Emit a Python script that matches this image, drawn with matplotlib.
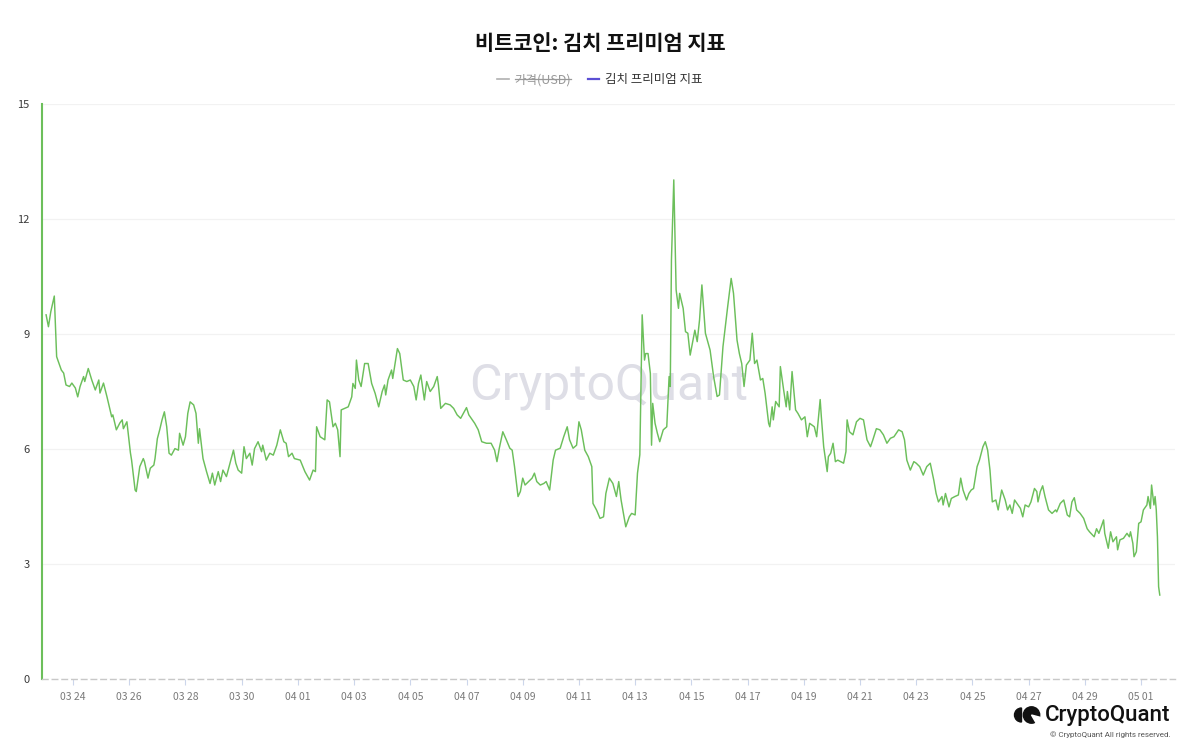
# ============================
# Imports
# ============================

import pandas as pd
import matplotlib
matplotlib.use("Agg")
import matplotlib.pyplot as plt
import matplotlib.dates as mdates
from matplotlib.lines import Line2D
from matplotlib.patches import Wedge, Circle

plt.rcParams["font.family"] = ["Noto Sans CJK KR", "DejaVu Sans"]

# ============================
# Data (hours since 2024-03-23 00:00, kimchi premium %)
# ============================

start = pd.Timestamp("2024-03-23 00:00")

hours = [
    1, 3, 5, 8, 10, 11, 14, 16, 18, 21, 23, 26, 28, 30, 33, 34, 37, 40, 43, 46,
    47, 50, 53, 57, 58, 61, 64, 66, 67, 70, 73, 74, 77, 78, 81, 84, 85, 88, 90, 93,
    94, 96, 98, 100, 102, 104, 106, 108, 111, 114, 115, 118, 120, 122, 124, 127, 129, 131, 132, 135,
    138, 141, 143, 145, 148, 150, 152, 155, 161, 163, 165, 168, 170, 172, 175, 177, 179, 182, 185, 186,
    189, 192, 195, 198, 201, 204, 206, 208, 211, 213, 218, 222, 226, 229, 231, 232, 235, 239, 241, 243,
    246, 248, 250, 252, 253, 256, 259, 262, 263, 265, 266, 268, 270, 273, 276, 279, 282, 285, 288, 290,
    291, 293, 296, 297, 301, 303, 306, 309, 312, 315, 317, 319, 321, 324, 326, 329, 332, 335, 336, 338,
    342, 346, 349, 352, 355, 360, 362, 364, 367, 370, 373, 377, 381, 384, 386, 388, 391, 394, 397, 399,
    401, 404, 406, 408, 410, 413, 416, 418, 420, 423, 426, 428, 431, 434, 436, 440, 443, 446, 448, 451,
    454, 456, 458, 461, 464, 467, 468, 471, 474, 477, 479, 482, 485, 488, 490, 492, 496, 499, 501, 504,
    506, 508, 510, 512, 513, 515, 517, 518, 519, 521, 523, 525, 528, 531, 533, 534, 535, 537, 539, 541,
    542, 545, 547, 549, 551, 555, 557, 559, 561, 564, 568, 571, 574, 576, 579, 583, 586, 588, 591, 593,
    595, 597, 599, 602, 604, 606, 608, 611, 613, 615, 618, 619, 621, 622, 624, 627, 628, 631, 633, 634,
    636, 638, 641, 643, 646, 649, 651, 653, 657, 659, 662, 663, 665, 668, 669, 671, 673, 675, 677, 682,
    684, 685, 687, 690, 693, 696, 699, 702, 705, 707, 710, 713, 716, 719, 722, 725, 729, 732, 734, 736,
    739, 742, 744, 747, 750, 753, 756, 759, 761, 763, 766, 767, 769, 772, 774, 777, 780, 782, 784, 787,
    789, 791, 793, 796, 798, 801, 803, 805, 807, 809, 812, 814, 817, 820, 822, 824, 826, 828, 830, 833,
    835, 837, 840, 842, 845, 847, 848, 850, 852, 854, 857, 860, 863, 864, 867, 870, 873, 875, 877, 879,
    881, 884, 887, 890, 892, 896, 898, 900, 902, 904, 905, 908, 910, 912, 915, 916, 918, 921, 924, 926,
    927, 929, 930, 932, 934, 936, 938, 941, 942, 944, 945, 947, 948, 949, 950, 951, 952,
]

kimchi = [
    9.50, 9.19, 9.58, 9.99, 8.41, 8.32, 8.06, 7.98, 7.67, 7.63, 7.72, 7.59, 7.36, 7.63, 7.89, 7.76, 8.10, 7.80, 7.54, 7.80,
    7.46, 7.72, 7.36, 6.84, 6.89, 6.50, 6.68, 6.76, 6.53, 6.71, 5.90, 5.71, 4.93, 4.89, 5.54, 5.75, 5.67, 5.24, 5.50, 5.58,
    5.75, 6.27, 6.50, 6.76, 6.97, 6.58, 5.89, 5.84, 6.01, 5.97, 6.41, 6.10, 6.32, 6.93, 7.23, 7.15, 6.93, 6.15, 6.53, 5.75,
    5.41, 5.10, 5.37, 5.06, 5.41, 5.15, 5.45, 5.28, 5.97, 5.63, 5.45, 5.37, 6.06, 5.75, 5.89, 5.58, 6.01, 6.19, 5.93, 6.10,
    5.71, 5.89, 5.84, 6.10, 6.50, 6.19, 6.15, 5.80, 5.89, 5.75, 5.71, 5.41, 5.19, 5.45, 5.41, 6.58, 6.32, 6.24, 7.28, 7.23,
    6.58, 6.67, 6.50, 5.80, 7.02, 7.06, 7.10, 7.36, 7.71, 7.58, 8.32, 7.80, 7.63, 8.23, 8.23, 7.71, 7.45, 7.10, 7.50, 7.67,
    7.41, 7.80, 8.06, 7.84, 8.62, 8.49, 7.80, 7.76, 7.80, 7.63, 7.28, 7.71, 7.93, 7.28, 7.76, 7.50, 7.63, 7.89, 7.67, 7.06,
    7.19, 7.15, 7.06, 6.89, 6.80, 7.08, 6.89, 6.80, 6.67, 6.50, 6.19, 6.15, 6.15, 5.97, 5.67, 6.02, 6.45, 6.24, 6.02, 5.97,
    5.54, 4.76, 4.89, 5.24, 5.06, 5.15, 5.24, 5.37, 5.15, 5.06, 5.10, 5.15, 4.93, 5.71, 5.97, 6.02, 6.32, 6.58, 6.24, 6.02,
    6.10, 6.71, 6.50, 5.97, 5.80, 5.54, 4.58, 4.41, 4.19, 4.23, 4.84, 5.24, 5.10, 4.76, 5.15, 4.67, 3.97, 4.23, 4.32, 4.28,
    5.37, 5.85, 9.50, 8.32, 8.49, 8.49, 7.97, 6.10, 7.19, 6.67, 6.41, 6.19, 6.50, 6.58, 7.89, 7.63, 10.93, 13.02, 10.15, 9.67,
    10.06, 9.67, 9.06, 9.02, 8.45, 9.10, 8.80, 9.37, 10.28, 9.02, 8.58, 7.89, 7.37, 7.41, 8.67, 9.71, 10.45, 10.06, 8.84, 8.49,
    8.23, 7.63, 8.19, 8.32, 9.02, 8.23, 8.32, 7.80, 7.84, 7.45, 6.67, 6.58, 7.10, 6.76, 7.24, 7.10, 8.15, 7.50, 7.10, 7.50,
    7.02, 8.02, 7.02, 6.93, 6.76, 6.84, 6.32, 6.67, 6.58, 6.32, 7.29, 6.84, 6.06, 5.41, 5.80, 5.89, 6.15, 5.67, 5.71, 5.63,
    5.93, 6.76, 6.45, 6.37, 6.71, 6.80, 6.76, 6.24, 6.06, 6.24, 6.53, 6.50, 6.37, 6.15, 6.28, 6.32, 6.50, 6.45, 6.24, 5.71,
    5.45, 5.67, 5.63, 5.54, 5.32, 5.54, 5.63, 5.19, 4.84, 4.62, 4.76, 4.54, 4.84, 4.49, 4.71, 4.76, 4.80, 5.24, 4.93, 4.67,
    4.84, 4.93, 4.97, 5.54, 5.71, 6.06, 6.19, 5.97, 5.45, 4.62, 4.67, 4.41, 4.93, 4.67, 4.41, 4.54, 4.32, 4.67, 4.58, 4.45,
    4.23, 4.54, 4.49, 4.62, 4.97, 4.89, 4.62, 4.89, 5.04, 4.76, 4.41, 4.32, 4.41, 4.36, 4.58, 4.67, 4.28, 4.23, 4.62, 4.73,
    4.41, 4.32, 4.19, 3.92, 3.84, 3.71, 3.92, 3.80, 3.97, 4.15, 3.80, 3.41, 3.84, 3.58, 3.71, 3.37, 3.63, 3.67, 3.80, 3.71,
    3.84, 3.54, 3.19, 3.32, 4.06, 4.10, 4.41, 4.54, 4.76, 4.45, 5.06, 4.54, 4.76, 4.41, 3.71, 2.41, 2.19,
]

dates = start + pd.to_timedelta(hours, unit="h")

x_start = pd.Timestamp("2024-03-22 21:30")
x_end = pd.Timestamp("2024-05-02 05:00")
tick_dates = pd.date_range("2024-03-24", "2024-05-01", freq="2D")
y_ticks = [0, 3, 6, 9, 12, 15]

title = "비트코인: 김치 프리미엄 지표"
legend_labels = ["가격(USD)", "김치 프리미엄 지표"]

green = "#6cbf5b"

# ============================
# Figure
# ============================

fig = plt.figure(figsize=(12, 7.56), dpi=100)
ax = fig.add_axes([42 / 1200, 1 - 679 / 756, 1133 / 1200, 575 / 756])

ax.plot(dates, kimchi, color=green, linewidth=1.05, zorder=3)

ax.set_xlim(x_start, x_end)
ax.set_ylim(0, 15)

ax.set_yticks(y_ticks)
ax.set_xticks(tick_dates)
ax.xaxis.set_major_formatter(mdates.DateFormatter("%m %d"))

ax.grid(axis="y", color="#f2f2f2", linewidth=0.9)
ax.set_axisbelow(True)

ax.tick_params(axis="y", length=0, pad=9, labelsize=8, labelcolor="#3a3a3a")
ax.tick_params(axis="x", length=4, width=0.8, color="#ccd6eb", pad=5,
               labelsize=7.5, labelcolor="#7a7a7a")

for side in ["top", "right"]:
    ax.spines[side].set_visible(False)
ax.spines["left"].set_color(green)
ax.spines["left"].set_linewidth(1.5)
ax.spines["bottom"].set_color("#c8c8c8")
ax.spines["bottom"].set_linestyle((0, (4, 3)))
ax.spines["bottom"].set_linewidth(1)

# watermark
ax.text(0.5, 0.51, "CryptoQuant", transform=ax.transAxes, ha="center", va="center",
        fontsize=36, family="Roboto", color="#dedee6", zorder=1)

# ============================
# Title and legend
# ============================

fig.text(0.5, 1 - 44 / 756, title, ha="center", va="center",
         fontsize=15, fontweight="bold", color="#111111")

handles = [
    Line2D([], [], color="#b0b0b0", linewidth=1.2),
    Line2D([], [], color="#5b4fd4", linewidth=1.6),
]
leg = fig.legend(handles, legend_labels, loc="center", bbox_to_anchor=(0.5, 1 - 80 / 756),
                 ncol=2, frameon=False, fontsize=9, handlelength=0.9,
                 handletextpad=0.5, columnspacing=1.3)
leg.get_texts()[0].set_color("#999999")
leg.get_texts()[1].set_color("#333333")

# strike through the hidden series label
fig.canvas.draw()
bb = leg.get_texts()[0].get_window_extent()
inv = fig.transFigure.inverted()
(x0, y0), (x1, y1) = inv.transform([(bb.x0, bb.y0), (bb.x1, bb.y1)])
fig.add_artist(Line2D([x0, x1], [(y0 + y1) / 2 + 0.001] * 2, transform=fig.transFigure,
                      color="#999999", linewidth=0.9))

# ============================
# Logo / footer
# ============================

fig.text(1170 / 1200, 1 - 715 / 756, "CryptoQuant", ha="right", va="center",
         fontsize=16, family="Roboto", fontweight="medium", color="#111111")
fig.text(1171 / 1200, 1 - 735 / 756, "© CryptoQuant All rights reserved.", ha="right",
         va="center", fontsize=5.8, family="Roboto", color="#555555")

lax = fig.add_axes([1012 / 1200, 1 - 726 / 756, 30 / 1200, 22 / 756])
lax.set_xlim(0, 30)
lax.set_ylim(0, 22)
lax.axis("off")
lax.add_patch(Wedge((9.5, 11), 7, 90, 270, color="#111111"))
lax.add_patch(Circle((19.5, 11), 8.2, color="#111111"))
lax.add_patch(Wedge((19.5, 11), 9, 300, 345, color="white"))

fig.savefig("out.png", dpi=100)
